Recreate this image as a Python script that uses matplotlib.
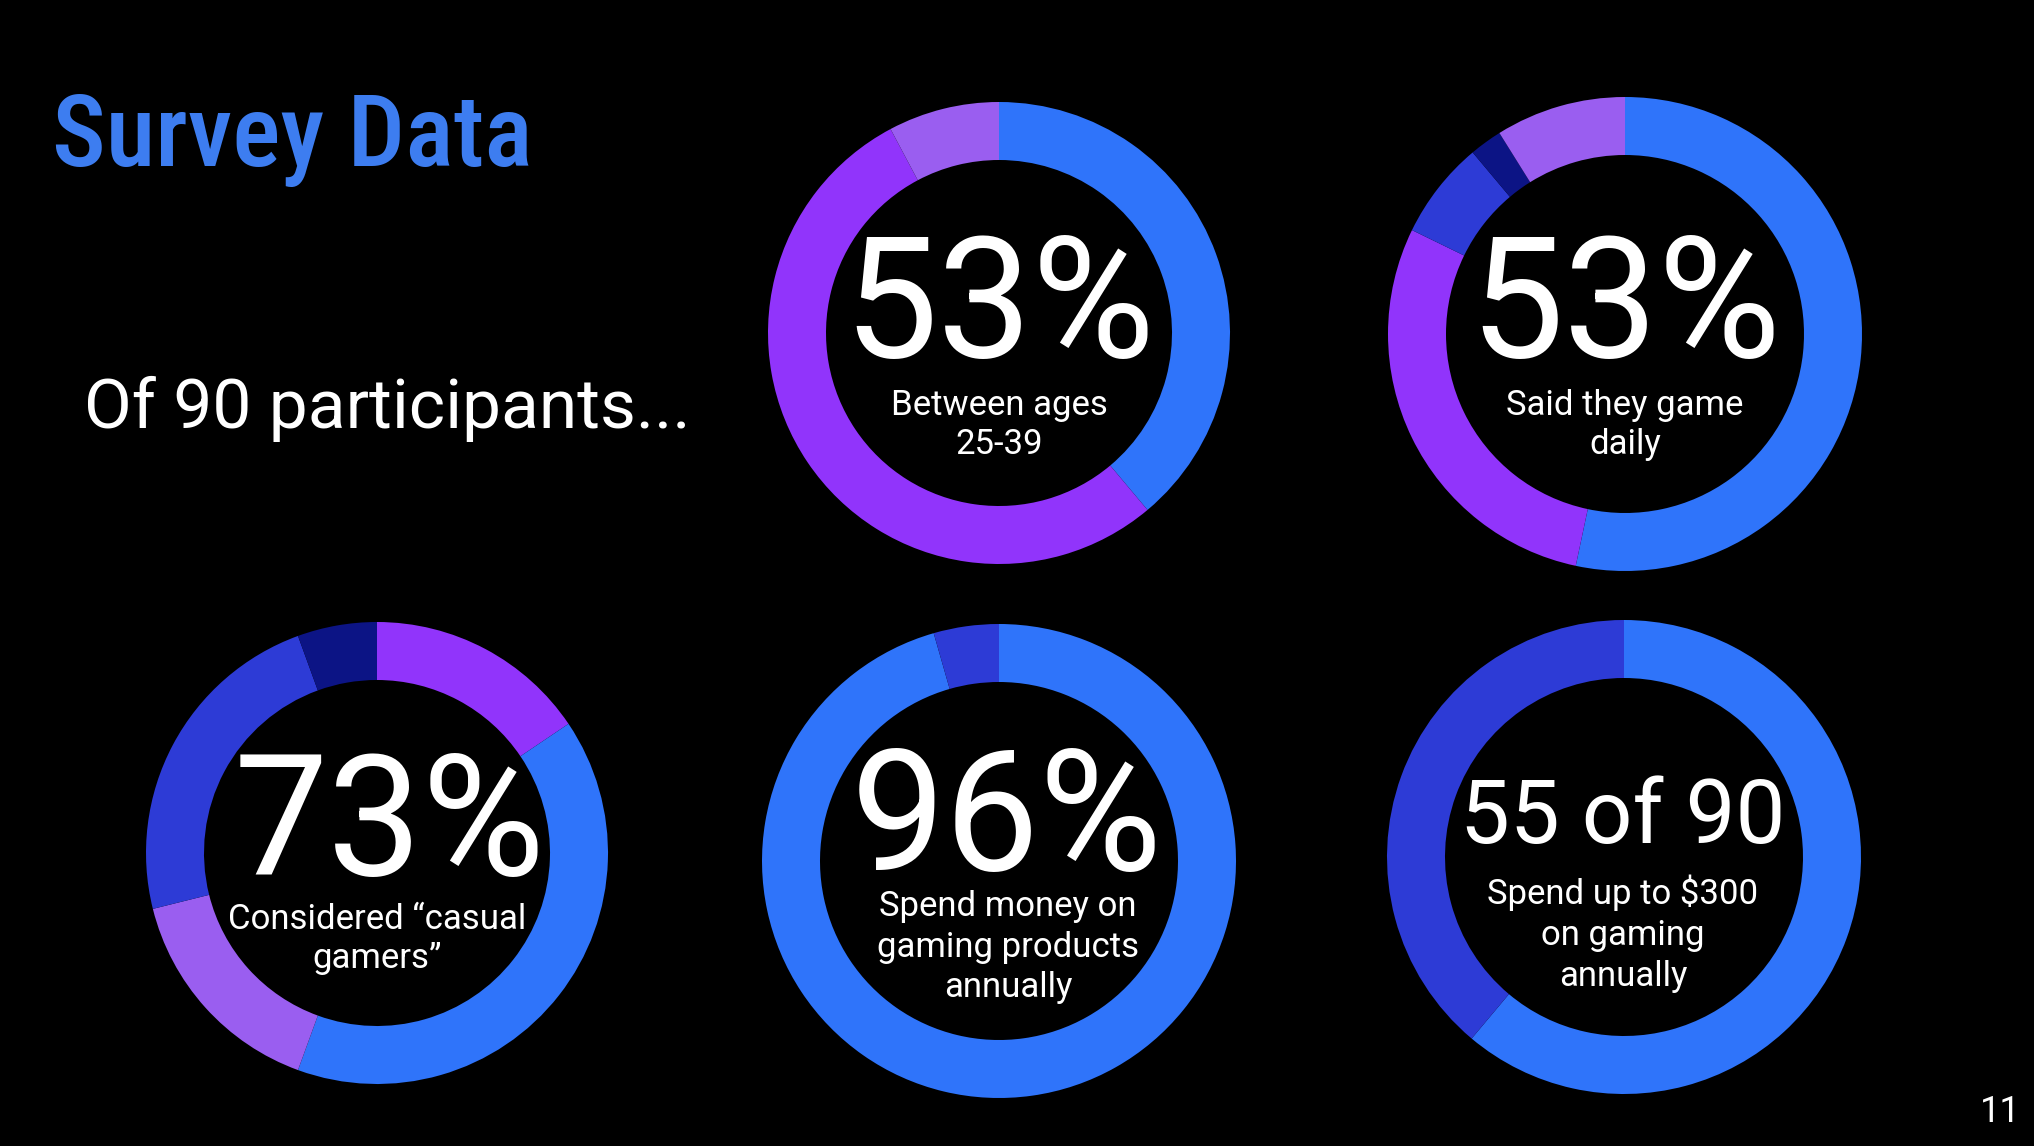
import matplotlib
matplotlib.use("Agg")
import matplotlib.pyplot as plt

# colours used by the slides
BLUE = '#2f74fa'
PURPLE = '#9134fb'
LILAC = '#9a5ef0'
MIDBLUE = '#2d3bd6'
NAVY = '#0c1485'

# segment counts (out of 90 participants), clockwise from 12 o'clock
ages_vals = [35, 48, 7]
ages_cols = [BLUE, PURPLE, LILAC]

daily_vals = [48, 26, 6, 2, 8]
daily_cols = [BLUE, PURPLE, MIDBLUE, NAVY, LILAC]

casual_vals = [14, 36, 14, 21, 5]
casual_cols = [PURPLE, BLUE, LILAC, MIDBLUE, NAVY]

spend_vals = [86, 4]
spend_cols = [BLUE, MIDBLUE]

upto300_vals = [55, 35]
upto300_cols = [BLUE, MIDBLUE]

big_texts = ['53%', '53%', '73%', '96%', '55 of 90']
sub_texts = ['Between ages\n25-39', 'Said they game\ndaily',
             'Considered \u201ccasual\ngamers\u201d',
             'Spend money on\ngaming products\nannually',
             'Spend up to $300\non gaming\nannually']

W, H = 2034, 1146
fig = plt.figure(figsize=(W / 100, H / 100), dpi=100, facecolor='black')
ax = fig.add_axes([0, 0, 1, 1])
ax.set_facecolor('black')

def donut(vals, cols, cx, cy, r):
    ax.pie(vals, colors=cols, startangle=90, counterclock=False,
           center=(cx, H - cy), radius=r, frame=True,
           wedgeprops=dict(width=58, linewidth=0))

donut(ages_vals, ages_cols, 999, 333, 231)
donut(daily_vals, daily_cols, 1625, 334, 237)
donut(casual_vals, casual_cols, 377, 853, 231)
donut(spend_vals, spend_cols, 999, 861, 237)
donut(upto300_vals, upto300_cols, 1624, 857, 237)

ax.set_xlim(0, W)
ax.set_ylim(0, H)
ax.set_aspect('equal')
ax.axis('off')

rob = ['Roboto', 'DejaVu Sans']

# big numbers
big_pos = [(999, 357), (1625, 357), (389, 875), (1007, 870), (1623, 843)]
big_size = [121, 121, 121, 121, 64]
for (x, y), t, s in zip(big_pos, big_texts, big_size):
    ax.text(x, H - y, t, color='white', fontsize=s, family=rob,
            ha='center', va='baseline')

# captions under the numbers (baseline of first line)
sub_pos = [(999, 415), (1625, 415), (377, 929), (1008, 916), (1623, 904)]
sub_gap = [39, 39, 39, 40.5, 41]
for (x, y), t, g in zip(sub_pos, sub_texts, sub_gap):
    for i, line in enumerate(t.split('\n')):
        ax.text(x, H - y - i * g, line, color='white', fontsize=25,
                family=rob, ha='center', va='baseline')

ax.text(52, H - 166, 'Survey Data', color='#3d7df0', fontsize=73,
        family=['Roboto Condensed', 'Liberation Sans Narrow', 'Roboto'],
        weight='medium', ha='left', va='baseline')
ax.text(84, H - 428, 'Of 90 participants...', color='white', fontsize=50,
        family=rob, ha='left', va='baseline')
ax.text(2000, H - 1122, '11', color='white', fontsize=26, family=rob,
        ha='center', va='baseline')

fig.savefig('out.png', dpi=100, facecolor='black')
